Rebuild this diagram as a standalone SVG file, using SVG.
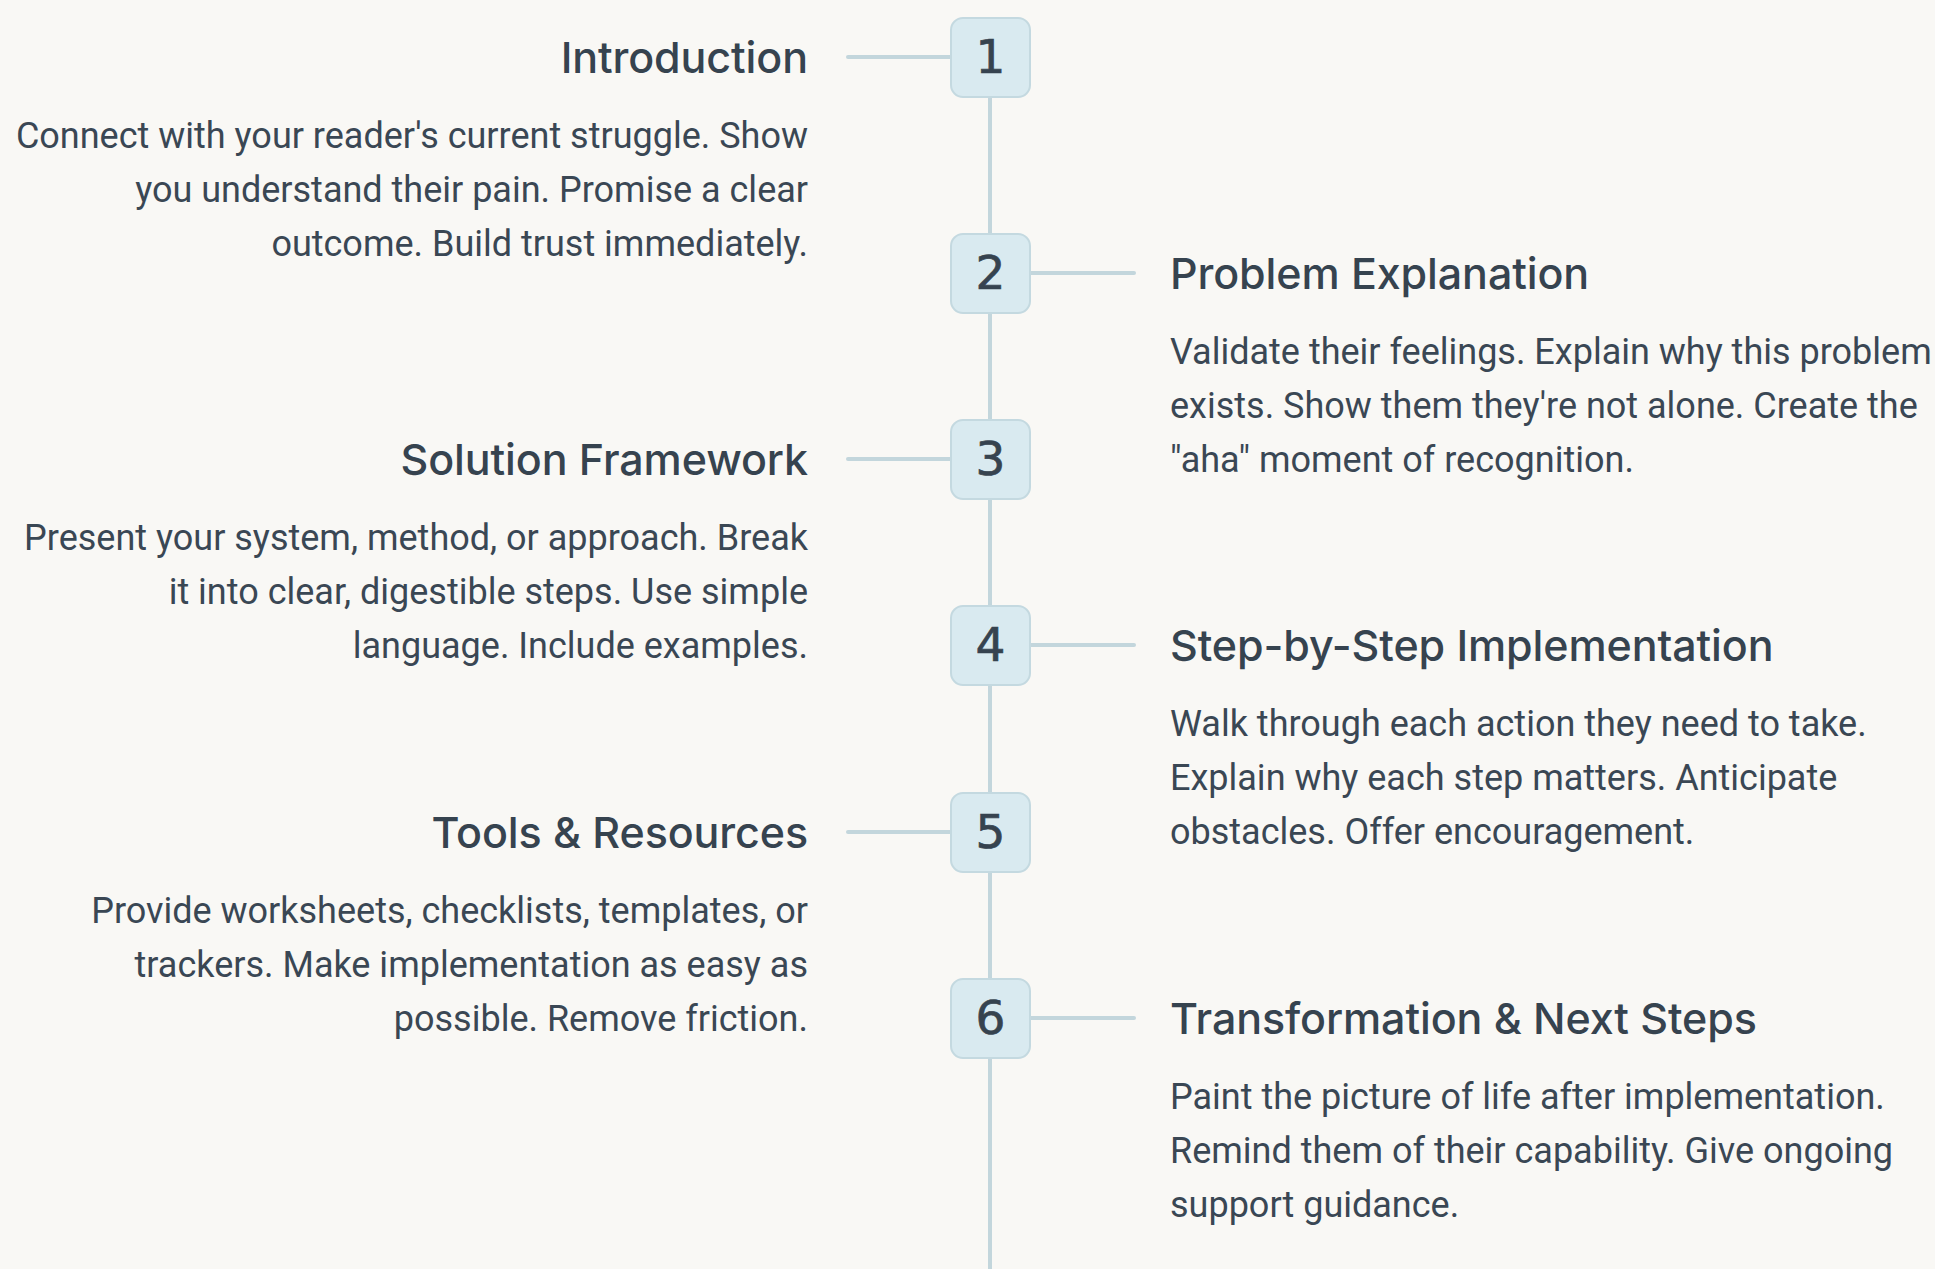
<svg xmlns="http://www.w3.org/2000/svg" width="1935" height="1269" viewBox="0 0 1935 1269">
<style>
.bg{fill:#f9f8f5}
.line{stroke:#c3d6dc;stroke-width:4;stroke-linecap:round;fill:none}
.box{fill:#d9eaf0;stroke:#c4d9e0;stroke-width:2}
.num{font-family:"DejaVu Sans",sans-serif;font-size:47px;fill:#36434f;stroke:#36434f;stroke-width:0.7;text-anchor:middle}
.title{font-family:Inter,"Noto Sans",sans-serif;font-size:43px;font-weight:500;fill:#36434f;letter-spacing:-0.1px}
.body{font-family:Roboto,"Liberation Sans",sans-serif;font-size:36px;fill:#3a4754}
.l{text-anchor:end}
.r{text-anchor:start}
</style>
<rect class="bg" width="1935" height="1269"/>
<g id="connectors">
<line class="line" x1="990" y1="57" x2="990" y2="1275"/>
<line class="line" x1="848" y1="57" x2="951" y2="57"/>
<line class="line" x1="1030" y1="273" x2="1134" y2="273"/>
<line class="line" x1="848" y1="459" x2="951" y2="459"/>
<line class="line" x1="1030" y1="645" x2="1134" y2="645"/>
<line class="line" x1="848" y1="832" x2="951" y2="832"/>
<line class="line" x1="1030" y1="1018" x2="1134" y2="1018"/>
</g>
<g id="step1">
<rect class="box" x="951" y="18" width="79" height="79" rx="12"/>
<text class="num" x="990.5" y="73">1</text>
<text class="title l" x="808" y="73">Introduction</text>
<text class="body l" x="808" y="148">Connect with your reader's current struggle. Show</text>
<text class="body l" x="808" y="202">you understand their pain. Promise a clear</text>
<text class="body l" x="808" y="256">outcome. Build trust immediately.</text>
</g>
<g id="step2">
<rect class="box" x="951" y="234" width="79" height="79" rx="12"/>
<text class="num" x="990.5" y="289">2</text>
<text class="title r" x="1170" y="289">Problem Explanation</text>
<text class="body r" x="1170" y="364">Validate their feelings. Explain why this problem</text>
<text class="body r" x="1170" y="418">exists. Show them they're not alone. Create the</text>
<text class="body r" x="1170" y="472">"aha" moment of recognition.</text>
</g>
<g id="step3">
<rect class="box" x="951" y="420" width="79" height="79" rx="12"/>
<text class="num" x="990.5" y="475">3</text>
<text class="title l" x="808" y="475">Solution Framework</text>
<text class="body l" x="808" y="550">Present your system, method, or approach. Break</text>
<text class="body l" x="808" y="604">it into clear, digestible steps. Use simple</text>
<text class="body l" x="808" y="658">language. Include examples.</text>
</g>
<g id="step4">
<rect class="box" x="951" y="606" width="79" height="79" rx="12"/>
<text class="num" x="990.5" y="661">4</text>
<text class="title r" x="1170" y="661">Step-by-Step Implementation</text>
<text class="body r" x="1170" y="736">Walk through each action they need to take.</text>
<text class="body r" x="1170" y="790">Explain why each step matters. Anticipate</text>
<text class="body r" x="1170" y="844">obstacles. Offer encouragement.</text>
</g>
<g id="step5">
<rect class="box" x="951" y="793" width="79" height="79" rx="12"/>
<text class="num" x="990.5" y="848">5</text>
<text class="title l" x="808" y="848">Tools &amp; Resources</text>
<text class="body l" x="808" y="923">Provide worksheets, checklists, templates, or</text>
<text class="body l" x="808" y="977">trackers. Make implementation as easy as</text>
<text class="body l" x="808" y="1031">possible. Remove friction.</text>
</g>
<g id="step6">
<rect class="box" x="951" y="979" width="79" height="79" rx="12"/>
<text class="num" x="990.5" y="1034">6</text>
<text class="title r" x="1170" y="1034">Transformation &amp; Next Steps</text>
<text class="body r" x="1170" y="1109">Paint the picture of life after implementation.</text>
<text class="body r" x="1170" y="1163">Remind them of their capability. Give ongoing</text>
<text class="body r" x="1170" y="1217">support guidance.</text>
</g>
</svg>
